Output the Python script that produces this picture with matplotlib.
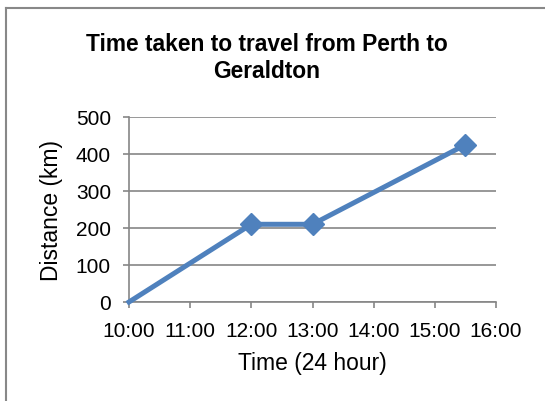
import matplotlib.pyplot as plt
from matplotlib.lines import Line2D

plt.rcParams["font.family"] = ["Liberation Sans", "DejaVu Sans"]

# data
times = ["10:00", "12:00", "13:00", "15:30"]
distance_km = [0, 210, 210, 425]
hour_ticks = ["10:00", "11:00", "12:00", "13:00", "14:00", "15:00", "16:00"]
y_ticks = [0, 100, 200, 300, 400, 500]


def to_hours(t):
    h, m = t.split(":")
    return int(h) + int(m) / 60


BLUE = "#4F81BD"
GRID = "#868686"

fig = plt.figure(figsize=(5.45, 4.02), dpi=100)
ax = fig.add_axes([0.2367, 0.2463, 0.6734, 0.4602])

x = [to_hours(t) for t in times]
ax.plot(x, distance_km, color=BLUE, lw=3.6, marker="D", ms=11,
        markevery=[1, 2, 3], clip_on=False, zorder=3)

xt = [to_hours(t) for t in hour_ticks]
ax.set_xticks(xt)
ax.set_xticklabels(hour_ticks)
ax.set_xlim(xt[0], xt[-1])
ax.set_yticks(y_ticks)
ax.set_ylim(0, 500)

ax.yaxis.grid(True, color=GRID, lw=1.2)
ax.set_axisbelow(True)
for s in ["top", "right"]:
    ax.spines[s].set_visible(False)
for s in ["left", "bottom"]:
    ax.spines[s].set_color(GRID)
    ax.spines[s].set_linewidth(1.2)
ax.tick_params(axis="both", colors=GRID, labelcolor="black", labelsize=15,
               length=4.5, width=1.2)
ax.tick_params(axis="y", pad=8.5)
ax.tick_params(axis="x", pad=9)

ax.set_xlabel("Time (24 hour)", fontsize=16.5, labelpad=8)
ax.set_ylabel("Distance (km)", fontsize=16.5, labelpad=9)
fig.text(0.489, 0.856, "Time taken to travel from Perth to\nGeraldton",
         ha="center", va="center", fontsize=16.4, fontweight="bold",
         linespacing=1.18)

# chart frame (left and top edges visible)
fig.add_artist(Line2D([0.0101, 0.0101], [0, 0.9776], color="#888888", lw=1.5,
                      transform=fig.transFigure))
fig.add_artist(Line2D([0.0101, 1], [0.9776, 0.9776], color="#888888", lw=1.5,
                      transform=fig.transFigure))

fig.savefig("out.png", dpi=100)
